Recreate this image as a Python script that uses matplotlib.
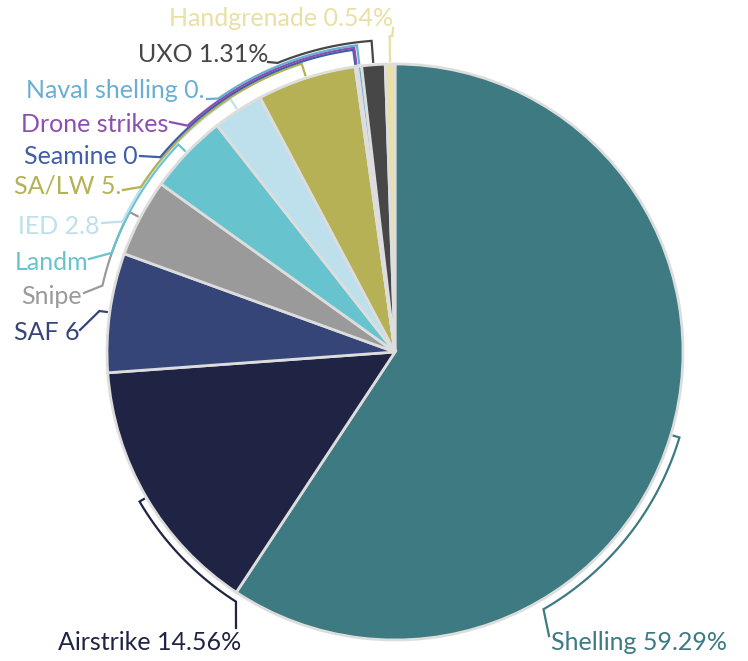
import numpy as np
import matplotlib
matplotlib.use("Agg")
import matplotlib.pyplot as plt

plt.rcParams['font.family'] = ['Lato', 'DejaVu Sans']

# data (percent of casualties by cause)
causes = ["Shelling", "Airstrike", "SAF", "Sniper", "Landmine", "IED", "SA/LW",
          "Seamine", "Drone strikes", "Naval shelling", "UXO", "Handgrenade"]
shares = [59.29, 14.56, 6.69, 4.37, 4.49, 2.84, 5.55, 0.05, 0.08, 0.23, 1.31, 0.54]
# labels as they appear (truncated in the original)
labels = ["Shelling 59.29%", "Airstrike 14.56%", "SAF 6", "Snipe", "Landm", "IED 2.8",
          "SA/LW 5.", "Seamine 0", "Drone strikes", "Naval shelling 0.", "UXO 1.31%",
          "Handgrenade 0.54%"]
colors = ["#3d7a82", "#1f2444", "#354577", "#9a9a9a", "#67c4cf", "#bde0ec",
          "#b5b154", "#3f5ea8", "#8c4fb0", "#6aaed3", "#474747", "#e8e0a4"]

W, H = 748, 661
cx, cy, R = 395, H - 352, 288

# leader layout: arc offset, arc end (deg clockwise from top), line end (px), text pos (px)
arc_off = [9, 8, 10, 12, 12, 14, 15, 17, 19, 21, 24, 28]
arc_end = [150, 212.5, 278, 282.8, 289.3, 295.6, 303, 309.7, 317.5, 325.1, 337.9, 359.5]
line_end = [(549, 636), (236, 628), (80, 330), (84, 293), (89, 259), (102, 223),
            (123, 190), (140, 156), (170, 122), (207, 99), (268, 62), (393, 28)]
text_pos = [(551, 642), (241, 642), (80, 332), (82, 296), (88, 262), (100, 227),
            (121, 186), (138, 156), (168, 124), (205, 90), (268, 54), (393, 19)]

fig = plt.figure(figsize=(W / 100, H / 100), dpi=100)
ax = fig.add_axes([0, 0, 1, 1])

wedges, _ = ax.pie(shares, colors=colors, startangle=90, counterclock=False,
                   center=(cx, cy), radius=R, frame=True,
                   wedgeprops=dict(edgecolor="#dddddd", linewidth=2))

for i, w in enumerate(wedges):
    mid = (w.theta1 + w.theta2) / 2
    end = 90 - arc_end[i]
    d = (end - mid + 180) % 360 - 180
    r = R + arc_off[i]
    t = np.radians(np.linspace(mid, mid + d, 60))
    xs = [cx + (R + 3) * np.cos(t[0])] + list(cx + r * np.cos(t))
    ys = [cy + (R + 3) * np.sin(t[0])] + list(cy + r * np.sin(t))
    xs.append(line_end[i][0])
    ys.append(H - line_end[i][1])
    ax.plot(xs, ys, color=colors[i], lw=1.6, solid_joinstyle="miter")
    tx, ty = text_pos[i]
    ax.text(tx, H - ty, labels[i], color=colors[i], fontsize=18,
            ha="left" if i == 0 else "right", va="center")

ax.set_xlim(0, W)
ax.set_ylim(0, H)
ax.axis("off")
fig.savefig("out.png", dpi=100)
